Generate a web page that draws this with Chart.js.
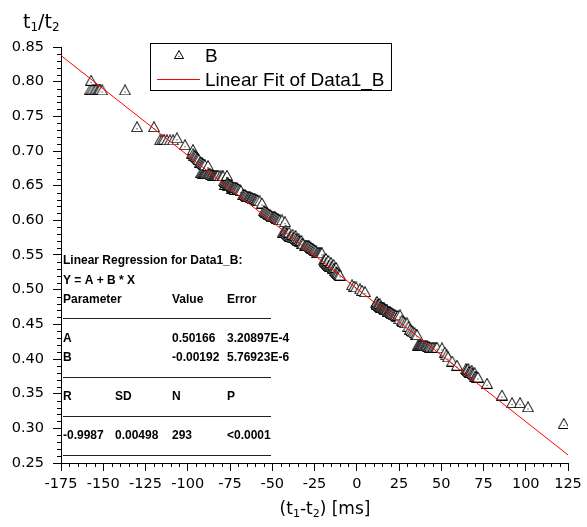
<!DOCTYPE html>
<html>
<head>
<meta charset="utf-8">
<script src="https://cdn.jsdelivr.net/npm/chart.js@4.4.1/dist/chart.umd.min.js"></script>
<style>
  html, body { margin: 0; padding: 0; background: #ffffff; }
  #wrap { width: 587px; height: 527px; }
</style>
</head>
<body>
<div id="wrap"><canvas id="c" width="587" height="527"></canvas></div>
<script>
// Measured ratio t1/t2 against the delay (t1 - t2) in ms, as [delay, ratio] pairs.
const pointsUpper = [
  [-157.2,0.802],
  [-157.6,0.789],[-156.4,0.789],[-155.2,0.788],[-154.1,0.789],[-153.0,0.788],[-152.4,0.789],[-151.8,0.789],[-150.6,0.788],
  [-137.1,0.788],
  [-130.0,0.735],[-120.0,0.735],
  [-116.4,0.716],[-115.2,0.716],[-114.0,0.717],[-112.3,0.716],[-110.5,0.716],[-108.7,0.716],
  [-106.4,0.719],[-101.6,0.709],[-96.9,0.702],
  [-97.5,0.697],[-96.8,0.696],[-96.2,0.694],[-95.7,0.693],[-95.1,0.692],[-94.5,0.690],[-94.0,0.689],[-93.5,0.688],
  [-92.8,0.684],[-92.2,0.684],[-91.6,0.683],[-91.0,0.682],[-90.4,0.681],[-89.8,0.680],[-88.0,0.679],
  [-92.0,0.669],[-91.4,0.669],[-91.0,0.668],[-90.4,0.668],[-89.8,0.668],[-89.2,0.668],[-88.6,0.667],[-88.0,0.667],
  [-87.4,0.667],[-86.8,0.667],[-86.2,0.666],[-85.7,0.666],[-85.1,0.665],[-84.5,0.665],[-83.9,0.665],[-83.3,0.665],
  [-82.7,0.665],[-82.1,0.665],[-80.9,0.664],[-79.7,0.664],[-79.1,0.664],[-76.8,0.665],
  [-78.5,0.657],[-78.0,0.656],[-77.4,0.655],[-76.8,0.654],[-76.3,0.654],[-75.9,0.653],[-75.6,0.652],[-75.0,0.651],
  [-74.6,0.651],[-74.1,0.650],[-73.6,0.649],[-73.2,0.648],[-72.7,0.648],[-72.0,0.648],[-71.6,0.647],[-70.9,0.647],
  [-70.4,0.646],[-69.9,0.645],[-69.1,0.644],[-68.6,0.643],[-77.9,0.652],[-76.0,0.650],[-74.0,0.646],[-72.3,0.645]
];
const pointsMiddle = [
  [-67.3,0.637],[-66.7,0.637],[-66.1,0.637],[-65.5,0.636],[-64.9,0.635],[-64.3,0.634],[-63.7,0.634],[-63.2,0.634],
  [-62.6,0.633],[-62.0,0.633],[-61.4,0.632],[-60.8,0.631],[-60.2,0.631],[-59.6,0.630],[-59.0,0.630],[-58.4,0.629],
  [-57.4,0.628],[-56.1,0.625],
  [-54.9,0.614],[-54.3,0.613],[-53.7,0.612],[-53.1,0.611],[-52.5,0.610],[-51.9,0.609],[-51.3,0.608],[-50.7,0.607],
  [-50.1,0.605],[-49.5,0.605],[-48.9,0.605],[-48.4,0.605],[-47.8,0.604],[-47.2,0.603],[-46.6,0.602],[-46.0,0.601],
  [-45.4,0.6005],[-44.2,0.6005],[-42.5,0.598],
  [-43.6,0.583],[-43.1,0.583],[-42.5,0.582],[-41.9,0.582],[-41.3,0.581],[-40.7,0.579],[-40.1,0.578],[-39.5,0.577],
  [-38.9,0.577],[-38.3,0.576],[-37.7,0.575],[-37.1,0.575],[-36.5,0.575],[-36.0,0.574],[-35.4,0.572],[-34.8,0.571],
  [-34.2,0.571],[-33.6,0.570],[-33.0,0.569],[-32.4,0.567],[-42.0,0.586],[-40.0,0.583],[-38.0,0.580],[-36.2,0.578],
  [-34.5,0.574],[-32.8,0.571],[-31.8,0.566],
  [-30.6,0.564],[-30.0,0.564],[-29.4,0.564],[-28.8,0.563],[-28.3,0.563],[-27.7,0.562],[-27.1,0.561],[-26.5,0.560],
  [-25.9,0.559],[-25.3,0.558],[-24.7,0.557],[-24.1,0.556],[-23.5,0.554],[-22.9,0.554],[-22.3,0.553],[-21.7,0.553],
  [-21.2,0.553],[-20.6,0.553],
  [-19.4,0.543],[-19.0,0.542],[-18.8,0.540],[-18.4,0.540],[-18.0,0.539],[-17.6,0.538],[-17.3,0.537],[-17.0,0.536],
  [-16.6,0.535],[-16.2,0.535],[-15.8,0.534],[-15.4,0.534],[-15.0,0.533],[-14.6,0.533],[-14.2,0.532],[-13.9,0.531],
  [-13.5,0.531],[-13.2,0.530],[-12.9,0.528],[-12.5,0.527],[-12.1,0.526],[-11.7,0.525],[-11.1,0.524],[-10.5,0.522],
  [-9.9,0.521],[-18.2,0.545],[-16.8,0.542],[-15.2,0.539],[-13.7,0.536],[-12.2,0.532],
  [-2.8,0.507],[-1.6,0.505],[-0.4,0.504],[1.9,0.501],[3.2,0.499],[4.9,0.497]
];
const pointsLower = [
  [11.4,0.481],[11.8,0.480],[12.2,0.479],[12.6,0.478],[13.0,0.477],[13.4,0.477],[13.8,0.476],[14.2,0.476],
  [14.5,0.475],[14.9,0.475],[15.3,0.474],[15.7,0.474],[16.1,0.474],[16.4,0.473],[16.7,0.472],[17.1,0.472],
  [17.5,0.471],[17.9,0.471],[18.2,0.469],[18.5,0.468],[18.9,0.468],[19.3,0.468],[19.7,0.468],[20.1,0.467],
  [20.5,0.467],[20.9,0.466],[21.4,0.465],[22.0,0.464],[22.6,0.4635],[23.2,0.463],[24.4,0.463],[25.6,0.4635],
  [12.0,0.483],[13.6,0.480],
  [23.8,0.461],[25.2,0.458],[26.8,0.456],[27.6,0.454],[28.6,0.452],[29.8,0.452],[30.6,0.447],[31.5,0.443],
  [32.4,0.441],[33.3,0.439],[34.2,0.438],[35.0,0.436],[35.7,0.435],
  [36.2,0.420],[36.8,0.420],[37.4,0.420],[38.0,0.420],[38.6,0.420],[39.2,0.420],[39.8,0.419],[40.4,0.419],
  [41.0,0.419],[41.6,0.419],[42.2,0.418],[42.8,0.418],[43.3,0.417],[44.2,0.417],[45.1,0.417],[46.0,0.417],
  [46.8,0.417],[47.5,0.417],[50.4,0.416],
  [52.2,0.410],[53.1,0.406],[54.0,0.403],[56.5,0.397],[59.3,0.391],
  [64.6,0.386],[65.2,0.385],[65.8,0.383],[66.4,0.382],[67.0,0.381],[67.6,0.381],[68.2,0.380],[68.8,0.379],
  [69.4,0.377],[70.0,0.375],[70.6,0.375],[71.2,0.374],[71.7,0.374],[66.0,0.386],[68.0,0.384],[69.8,0.380],
  [77.1,0.365],[85.9,0.348],[91.9,0.337],[96.6,0.337],[101.3,0.331],[122.5,0.307]
];

// Linear fit Y = A + B * X and its statistics
const fitA = 0.50166;
const fitB = -0.00192;
const fitAErr = '3.20897E-4';
const fitBErr = '5.76923E-6';
const fitR = '-0.9987';
const fitSD = '0.00498';
const fitN = '293';
const fitP = '<0.0001';

// Axis ranges and tick steps
const xRange = [-175, 125];
const yRange = [0.25, 0.85];
const xMajorStep = 25, xMinorStep = 5;
const yMajorStep = 0.05, yMinorStep = 0.01;

const seriesName = 'B';
const fitName = 'Linear Fit of Data1_B';

// Scatter points drawn left to right so later triangles overlap earlier ones
const scatterData = pointsUpper.concat(pointsMiddle, pointsLower)
  .map(p => ({ x: p[0], y: p[1] }))
  .sort((a, b) => a.x - b.x);

const fitData = xRange.map(x => ({ x: x, y: fitA + fitB * x }));

// White triangle marker with a centre dot
function makeTriangle(w, h, dot) {
  const c = document.createElement('canvas');
  c.width = w; c.height = h;
  const g = c.getContext('2d');
  g.beginPath();
  g.moveTo(w / 2, 0.5);
  g.lineTo(w - 0.5, h - 0.5);
  g.lineTo(0.5, h - 0.5);
  g.closePath();
  g.fillStyle = '#ffffff';
  g.fill();
  g.strokeStyle = '#000000';
  g.lineWidth = 1;
  g.stroke();
  if (dot) {
    g.fillStyle = '#000000';
    g.fillRect(Math.floor(w / 2) - 0.5, Math.round(h * 0.62), 1, 1);
  }
  return c;
}
const triMarker = makeTriangle(12, 11, true);
const triLegend = makeTriangle(10, 9, true);

// Text with subscripts: parts are [text, isSubscript]
function richWidth(ctx, parts, mainFont, subFont) {
  let w = 0;
  parts.forEach(p => { ctx.font = p[1] ? subFont : mainFont; w += ctx.measureText(p[0]).width; });
  return w;
}
function drawRich(ctx, parts, x, baseline, mainFont, subFont, subDrop) {
  ctx.textBaseline = 'alphabetic';
  ctx.textAlign = 'left';
  parts.forEach(p => {
    ctx.font = p[1] ? subFont : mainFont;
    ctx.fillText(p[0], x, baseline + (p[1] ? subDrop : 0));
    x += ctx.measureText(p[0]).width;
  });
}

const overlay = {
  id: 'overlay',
  afterDraw(chart) {
    const ctx = chart.ctx;
    const xs = chart.scales.x, ys = chart.scales.y;
    ctx.save();
    ctx.strokeStyle = '#000000';
    ctx.fillStyle = '#000000';
    ctx.lineWidth = 1;

    // minor ticks
    ctx.beginPath();
    const nx = Math.round((xRange[1] - xRange[0]) / xMinorStep);
    const perX = Math.round(xMajorStep / xMinorStep);
    for (let i = 0; i <= nx; i++) {
      if (i % perX === 0) continue;
      const px = Math.round(xs.getPixelForValue(xRange[0] + i * xMinorStep)) + 0.5;
      ctx.moveTo(px, ys.bottom);
      ctx.lineTo(px, ys.bottom + 4);
    }
    const ny = Math.round((yRange[1] - yRange[0]) / yMinorStep);
    const perY = Math.round(yMajorStep / yMinorStep);
    for (let i = 0; i <= ny; i++) {
      if (i % perY === 0) continue;
      const py = Math.round(ys.getPixelForValue(yRange[0] + i * yMinorStep)) + 0.5;
      ctx.moveTo(xs.left, py);
      ctx.lineTo(xs.left - 4, py);
    }
    ctx.stroke();

    // axis titles
    const mainF = '19px "DejaVu Sans"', subF = '12px "DejaVu Sans"';
    drawRich(ctx, [['t', 0], ['1', 1], ['/', 0], ['t', 0], ['2', 1]], 23, 28, mainF, subF, 3);
    const xt = [['(t', 0], ['1', 1], ['-t', 0], ['2', 1], [') [ms]', 0]];
    const xmF = '17px "DejaVu Sans"', xsF = '11px "DejaVu Sans"';
    const xw = richWidth(ctx, xt, xmF, xsF);
    drawRich(ctx, xt, 325 - xw / 2, 514, xmF, xsF, 3);

    // legend
    ctx.lineWidth = 1;
    ctx.strokeStyle = '#000000';
    ctx.strokeRect(150.5, 43.5, 241, 47);
    ctx.drawImage(triLegend, 179 - 5, 55 - 5);
    ctx.font = '19px "Liberation Sans"';
    ctx.textBaseline = 'middle';
    ctx.textAlign = 'left';
    ctx.fillText(seriesName, 205, 57);
    ctx.beginPath();
    ctx.strokeStyle = '#ff0000';
    ctx.moveTo(157, 79.5);
    ctx.lineTo(200, 79.5);
    ctx.stroke();
    ctx.fillText(fitName, 205, 81);

    // regression report
    ctx.font = 'bold 12px "Liberation Sans"';
    ctx.fillStyle = '#000000';
    const c0 = 63, c1 = 115, c2 = 172, c3 = 227;
    ctx.fillText('Linear Regression for Data1_B:', c0, 261);
    ctx.fillText('Y = A + B * X', c0, 281);
    ctx.fillText('Parameter', c0, 300);
    ctx.fillText('Value', c2, 300);
    ctx.fillText('Error', c3, 300);
    ctx.fillText('A', c0, 339);
    ctx.fillText(fitA.toFixed(5), c2, 339);
    ctx.fillText(fitAErr, c3, 339);
    ctx.fillText('B', c0, 358);
    ctx.fillText(fitB.toFixed(5), c2, 358);
    ctx.fillText(fitBErr, c3, 358);
    ctx.fillText('R', c0, 397);
    ctx.fillText('SD', c1, 397);
    ctx.fillText('N', c2, 397);
    ctx.fillText('P', c3, 397);
    ctx.fillText(fitR, c0, 436);
    ctx.fillText(fitSD, c1, 436);
    ctx.fillText(fitN, c2, 436);
    ctx.fillText(fitP, c3, 436);
    ctx.strokeStyle = '#222222';
    ctx.beginPath();
    [318.5, 377.5, 416.5, 455.5].forEach(y => { ctx.moveTo(63, y); ctx.lineTo(271, y); });
    ctx.stroke();
    ctx.restore();
  }
};

const tickFont = { family: '"DejaVu Sans"', size: 14.5 };

new Chart(document.getElementById('c'), {
  type: 'scatter',
  data: {
    datasets: [
      {
        label: fitName,
        type: 'line',
        data: fitData,
        borderColor: '#ff0000',
        borderWidth: 1,
        pointRadius: 0,
        showLine: true,
        fill: false,
        order: 0
      },
      {
        label: seriesName,
        data: scatterData,
        pointStyle: triMarker,
        pointRadius: 6,
        order: 1
      }
    ]
  },
  options: {
    responsive: false,
    animation: false,
    devicePixelRatio: 1,
    layout: { padding: { left: 0, top: 47, right: 19, bottom: 0 } },
    plugins: { legend: { display: false }, tooltip: { enabled: false } },
    scales: {
      x: {
        type: 'linear',
        min: xRange[0], max: xRange[1],
        afterFit(s) { s.height = 64; },
        ticks: { stepSize: xMajorStep, color: '#000', font: tickFont, padding: 5, maxRotation: 0, autoSkip: false },
        grid: { drawOnChartArea: false, tickLength: 8, tickColor: '#000', tickWidth: 1 },
        border: { display: true, color: '#000', width: 1 }
      },
      y: {
        type: 'linear',
        min: yRange[0], max: yRange[1],
        afterFit(s) { s.width = 61; },
        ticks: { stepSize: yMajorStep, color: '#000', font: tickFont, padding: 9, autoSkip: false,
                 callback: v => Number(v).toFixed(2) },
        grid: { drawOnChartArea: false, tickLength: 8, tickColor: '#000', tickWidth: 1 },
        border: { display: true, color: '#000', width: 1 }
      }
    }
  },
  plugins: [overlay]
});
</script>
</body>
</html>
